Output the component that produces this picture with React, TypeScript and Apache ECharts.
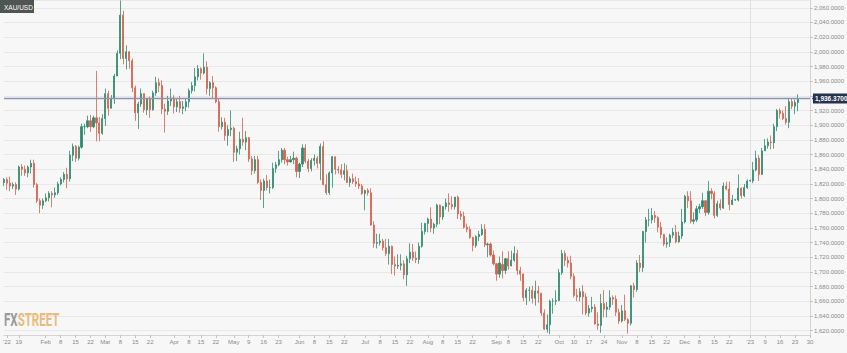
import React, { useEffect, useRef } from "react";
import * as echarts from "echarts";

// [day, open, close, low, high]
type C = [number, number, number, number, number];

const jan22: C[] = [
  [12, 1822, 1826, 1817, 1828], [13, 1826, 1821, 1812, 1829], [14, 1821, 1817, 1810, 1830],
  [17, 1817, 1819, 1813, 1822], [18, 1819, 1813, 1805, 1822], [19, 1813, 1843, 1811, 1845],
  [20, 1843, 1840, 1831, 1847], [21, 1840, 1835, 1831, 1845], [24, 1835, 1843, 1829, 1845],
  [25, 1843, 1848, 1834, 1853], [26, 1848, 1819, 1815, 1853], [27, 1819, 1797, 1794, 1821],
  [28, 1797, 1791, 1780, 1800], [31, 1791, 1797, 1786, 1800],
];
const feb22: C[] = [
  [1, 1797, 1801, 1795, 1807], [2, 1801, 1807, 1796, 1810], [3, 1807, 1805, 1788, 1810],
  [4, 1805, 1808, 1801, 1815], [7, 1808, 1820, 1805, 1823], [8, 1820, 1826, 1818, 1829],
  [9, 1826, 1833, 1822, 1836], [10, 1833, 1827, 1814, 1842], [11, 1827, 1859, 1823, 1865],
  [14, 1859, 1871, 1851, 1875], [15, 1871, 1855, 1850, 1873], [16, 1855, 1870, 1852, 1872],
  [17, 1870, 1898, 1868, 1902], [18, 1898, 1898, 1887, 1902], [21, 1898, 1906, 1896, 1913],
  [22, 1906, 1898, 1891, 1914], [23, 1898, 1910, 1896, 1913], [24, 1910, 1903, 1878, 1974],
  [25, 1903, 1889, 1878, 1911], [28, 1889, 1909, 1887, 1915],
];
const mar22: C[] = [
  [1, 1909, 1943, 1899, 1950], [2, 1943, 1923, 1913, 1947], [3, 1923, 1936, 1923, 1941],
  [4, 1936, 1967, 1929, 1970], [7, 1967, 1998, 1967, 2002], [8, 1998, 2050, 1990, 2070],
  [9, 2050, 1991, 1983, 2056], [10, 1991, 2000, 1976, 2009], [11, 2000, 1988, 1977, 2001],
  [14, 1988, 1951, 1945, 1991], [15, 1951, 1917, 1906, 1954], [16, 1917, 1929, 1895, 1932],
  [17, 1929, 1943, 1925, 1950], [18, 1943, 1921, 1917, 1943], [21, 1921, 1936, 1914, 1937],
  [22, 1936, 1921, 1910, 1939], [23, 1921, 1944, 1920, 1947], [24, 1944, 1958, 1940, 1966],
  [25, 1958, 1954, 1945, 1964], [28, 1954, 1922, 1915, 1961], [29, 1922, 1919, 1890, 1929],
  [30, 1919, 1933, 1914, 1940], [31, 1933, 1937, 1926, 1950],
];
const apr22: C[] = [
  [1, 1937, 1925, 1916, 1941], [4, 1925, 1932, 1918, 1937], [5, 1932, 1923, 1917, 1940],
  [6, 1923, 1925, 1915, 1933], [7, 1925, 1932, 1919, 1937], [8, 1932, 1947, 1924, 1950],
  [11, 1947, 1954, 1943, 1959], [12, 1954, 1966, 1946, 1978], [13, 1966, 1977, 1961, 1982],
  [14, 1977, 1971, 1962, 1979], [18, 1971, 1979, 1969, 1998], [19, 1979, 1950, 1942, 1987],
  [20, 1950, 1958, 1940, 1960], [21, 1958, 1951, 1936, 1967], [22, 1951, 1932, 1930, 1953],
  [25, 1932, 1898, 1891, 1936], [26, 1898, 1904, 1894, 1911], [27, 1904, 1886, 1879, 1910],
  [28, 1886, 1894, 1872, 1900], [29, 1894, 1896, 1885, 1920],
];
const may22: C[] = [
  [2, 1896, 1863, 1850, 1898], [3, 1863, 1868, 1851, 1872], [4, 1868, 1881, 1860, 1891],
  [5, 1881, 1877, 1872, 1910], [6, 1877, 1883, 1866, 1892], [9, 1883, 1854, 1850, 1884],
  [10, 1854, 1838, 1832, 1858], [11, 1838, 1853, 1834, 1858], [12, 1853, 1822, 1820, 1858],
  [13, 1822, 1811, 1798, 1826], [16, 1811, 1824, 1787, 1827], [17, 1824, 1815, 1811, 1832],
  [18, 1815, 1815, 1807, 1826], [19, 1815, 1841, 1813, 1849], [20, 1841, 1846, 1835, 1850],
  [23, 1846, 1853, 1844, 1865], [24, 1853, 1866, 1849, 1869], [25, 1866, 1853, 1847, 1869],
  [26, 1853, 1850, 1845, 1857], [27, 1850, 1853, 1849, 1858], [30, 1853, 1855, 1847, 1864],
  [31, 1855, 1837, 1829, 1857],
];
const jun22: C[] = [
  [1, 1837, 1847, 1828, 1849], [2, 1847, 1869, 1843, 1874], [3, 1869, 1851, 1848, 1874],
  [6, 1851, 1841, 1836, 1854], [7, 1841, 1852, 1837, 1855], [8, 1852, 1855, 1845, 1860],
  [9, 1855, 1848, 1841, 1858], [10, 1848, 1871, 1825, 1875], [13, 1871, 1819, 1818, 1878],
  [14, 1819, 1808, 1805, 1833], [15, 1808, 1835, 1805, 1837], [16, 1835, 1857, 1815, 1858],
  [17, 1857, 1840, 1833, 1857], [20, 1840, 1839, 1834, 1844], [21, 1839, 1833, 1828, 1847],
  [22, 1833, 1838, 1825, 1848], [23, 1838, 1822, 1821, 1846], [24, 1822, 1827, 1816, 1830],
  [27, 1827, 1823, 1820, 1834], [28, 1823, 1820, 1816, 1830], [29, 1820, 1817, 1813, 1828],
  [30, 1817, 1807, 1805, 1820],
];
const jul22: C[] = [
  [1, 1807, 1811, 1784, 1812], [4, 1811, 1808, 1804, 1814], [5, 1808, 1764, 1763, 1814],
  [6, 1764, 1739, 1733, 1769], [7, 1739, 1740, 1732, 1752], [8, 1740, 1742, 1736, 1752],
  [11, 1742, 1733, 1729, 1745], [12, 1733, 1725, 1722, 1745], [13, 1725, 1735, 1710, 1745],
  [14, 1735, 1710, 1697, 1736], [15, 1710, 1708, 1695, 1721], [18, 1708, 1709, 1704, 1724],
  [19, 1709, 1711, 1702, 1724], [20, 1711, 1696, 1690, 1716], [21, 1696, 1718, 1681, 1722],
  [22, 1718, 1727, 1712, 1739], [25, 1727, 1719, 1715, 1738], [26, 1719, 1717, 1712, 1728],
  [27, 1717, 1735, 1711, 1740], [28, 1735, 1755, 1733, 1767], [29, 1755, 1766, 1751, 1767],
];
const aug22: C[] = [
  [1, 1766, 1772, 1754, 1774], [2, 1772, 1760, 1754, 1788], [3, 1760, 1765, 1752, 1767],
  [4, 1765, 1791, 1761, 1793], [5, 1791, 1775, 1765, 1792], [8, 1775, 1789, 1771, 1790],
  [9, 1789, 1794, 1785, 1800], [10, 1794, 1792, 1782, 1807], [11, 1792, 1789, 1785, 1803],
  [12, 1789, 1802, 1785, 1802], [15, 1802, 1779, 1772, 1804], [16, 1779, 1776, 1771, 1783],
  [17, 1776, 1761, 1759, 1782], [18, 1761, 1758, 1754, 1766], [19, 1758, 1747, 1745, 1762],
  [22, 1747, 1736, 1728, 1748], [23, 1736, 1748, 1733, 1750], [24, 1748, 1751, 1742, 1756],
  [25, 1751, 1758, 1749, 1765], [26, 1758, 1737, 1734, 1765], [29, 1737, 1738, 1720, 1740],
  [30, 1738, 1723, 1721, 1740], [31, 1723, 1711, 1709, 1729],
];
const sep22: C[] = [
  [1, 1711, 1697, 1688, 1712], [2, 1697, 1712, 1692, 1721],
  [6, 1710, 1702, 1691, 1728], [7, 1702, 1718, 1697, 1719], [8, 1718, 1708, 1703, 1728],
  [9, 1708, 1716, 1708, 1729], [12, 1716, 1725, 1714, 1735], [13, 1725, 1702, 1696, 1730],
  [14, 1702, 1697, 1688, 1707], [15, 1697, 1665, 1660, 1698], [16, 1665, 1675, 1655, 1678],
  [19, 1675, 1675, 1660, 1680], [20, 1675, 1664, 1657, 1681], [21, 1664, 1674, 1654, 1688],
  [22, 1674, 1671, 1658, 1681], [23, 1671, 1644, 1640, 1671], [26, 1644, 1622, 1621, 1649],
  [27, 1622, 1628, 1617, 1642], [28, 1628, 1660, 1615, 1662], [29, 1660, 1660, 1643, 1664],
  [30, 1660, 1661, 1655, 1675],
];
const oct22: C[] = [
  [3, 1661, 1699, 1660, 1704], [4, 1699, 1725, 1696, 1730], [5, 1725, 1716, 1708, 1729],
  [6, 1716, 1712, 1706, 1721], [7, 1712, 1694, 1690, 1722], [10, 1694, 1668, 1665, 1698],
  [11, 1668, 1666, 1660, 1677], [12, 1666, 1673, 1660, 1678], [13, 1673, 1666, 1642, 1682],
  [14, 1666, 1644, 1641, 1671], [17, 1644, 1650, 1639, 1655], [18, 1650, 1652, 1645, 1666],
  [19, 1652, 1629, 1628, 1656], [20, 1629, 1627, 1621, 1645], [21, 1627, 1657, 1617, 1670],
  [24, 1657, 1649, 1638, 1675], [25, 1649, 1652, 1638, 1659], [26, 1652, 1665, 1648, 1675],
  [27, 1665, 1663, 1655, 1668], [28, 1663, 1645, 1640, 1668], [31, 1645, 1633, 1629, 1650],
];
const nov22: C[] = [
  [1, 1633, 1647, 1631, 1655], [2, 1647, 1635, 1633, 1669], [3, 1635, 1630, 1616, 1637],
  [4, 1630, 1681, 1627, 1682], [7, 1681, 1676, 1665, 1685], [8, 1676, 1712, 1673, 1716],
  [9, 1712, 1706, 1700, 1723], [10, 1706, 1755, 1700, 1756], [11, 1755, 1771, 1740, 1775],
  [14, 1771, 1771, 1762, 1786], [15, 1771, 1777, 1766, 1787], [16, 1777, 1774, 1767, 1783],
  [17, 1774, 1761, 1754, 1776], [18, 1761, 1751, 1746, 1768], [21, 1751, 1738, 1735, 1752],
  [22, 1738, 1740, 1733, 1747], [23, 1740, 1750, 1734, 1752],
  [25, 1750, 1754, 1746, 1760], [28, 1754, 1741, 1739, 1764], [29, 1741, 1749, 1740, 1755],
  [30, 1749, 1768, 1745, 1786],
];
const dec22: C[] = [
  [1, 1768, 1803, 1766, 1805], [2, 1803, 1797, 1787, 1810], [5, 1797, 1769, 1766, 1810],
  [6, 1769, 1771, 1765, 1781], [7, 1771, 1786, 1768, 1790], [8, 1786, 1789, 1780, 1793],
  [9, 1789, 1797, 1786, 1808], [12, 1797, 1781, 1776, 1798], [13, 1781, 1810, 1778, 1824],
  [14, 1810, 1807, 1799, 1814], [15, 1807, 1777, 1773, 1810], [16, 1777, 1793, 1775, 1797],
  [19, 1793, 1787, 1784, 1799], [20, 1787, 1817, 1786, 1822], [21, 1817, 1813, 1811, 1823],
  [22, 1813, 1792, 1784, 1823], [23, 1792, 1798, 1791, 1805], [26, 1798, 1798.5, 1797, 1799],
  [27, 1798, 1814, 1796, 1833], [28, 1814, 1804, 1800, 1815], [29, 1804, 1815, 1802, 1820],
  [30, 1815, 1824, 1813, 1826],
];
const jan23: C[] = [
  [2, 1824, 1824.6, 1823, 1826],
  [3, 1824, 1839, 1821, 1850], [4, 1839, 1855, 1837, 1865], [5, 1855, 1833, 1824, 1859],
  [6, 1833, 1865, 1832, 1869], [9, 1865, 1872, 1865, 1881], [10, 1872, 1877, 1868, 1882],
  [11, 1877, 1876, 1867, 1886], [12, 1876, 1898, 1868, 1902], [13, 1898, 1920, 1892, 1922],
  [16, 1920, 1916, 1909, 1923], [17, 1916, 1909, 1907, 1920], [18, 1909, 1904, 1901, 1926],
  [19, 1904, 1932, 1896, 1936], [20, 1932, 1926, 1922, 1937], [23, 1926, 1931, 1915, 1935],
  [24, 1931, 1936.37, 1919, 1942],
];

const months: [string, C[]][] = [
  ["2022-01", jan22], ["2022-02", feb22], ["2022-03", mar22], ["2022-04", apr22],
  ["2022-05", may22], ["2022-06", jun22], ["2022-07", jul22], ["2022-08", aug22],
  ["2022-09", sep22], ["2022-10", oct22], ["2022-11", nov22], ["2022-12", dec22],
  ["2023-01", jan23],
];
const futureDays = ["2023-01-25", "2023-01-26", "2023-01-27", "2023-01-30"];

const tickDates = [
  "2022-01-13", "2022-01-19", "2022-02-01", "2022-02-08", "2022-02-15", "2022-02-22",
  "2022-03-01", "2022-03-08", "2022-03-15", "2022-03-22", "2022-04-01", "2022-04-08",
  "2022-04-14", "2022-04-22", "2022-05-02", "2022-05-09", "2022-05-16", "2022-05-23",
  "2022-06-01", "2022-06-08", "2022-06-15", "2022-06-22", "2022-07-01", "2022-07-08",
  "2022-07-15", "2022-07-22", "2022-08-01", "2022-08-08", "2022-08-15", "2022-08-22",
  "2022-09-01", "2022-09-08", "2022-09-15", "2022-09-22", "2022-10-03", "2022-10-10",
  "2022-10-17", "2022-10-24", "2022-11-01", "2022-11-08", "2022-11-15", "2022-11-22",
  "2022-12-01", "2022-12-08", "2022-12-15", "2022-12-22", "2023-01-02", "2023-01-09",
  "2023-01-16", "2023-01-23", "2023-01-30",
];
const tickLabels = [
  "'22", "19", "Feb", "8", "15", "22", "Mar", "8", "15", "22", "Apr", "8",
  "15", "22", "May", "9", "16", "23", "Jun", "8", "15", "22", "Jul", "8",
  "15", "22", "Aug", "8", "15", "22", "Sep", "8", "15", "22", "Oct", "10",
  "17", "24", "Nov", "8", "15", "22", "Dec", "8", "15", "22", "'23", "9",
  "16", "23", "30",
];
const yearLineDate = "2023-01-02";
const lastPrice = 1936.37;
const symbolName = "XAU/USD";

const fmt = (v: number) =>
  v.toLocaleString("en-US", { minimumFractionDigits: 4, maximumFractionDigits: 4 });

export default function App() {
  const ref = useRef<HTMLDivElement>(null);
  useEffect(() => {
    document.body.style.margin = "0";
    const chart = echarts.init(ref.current!, undefined, { renderer: "svg" });
    const dates: string[] = [];
    const ohlc: number[][] = [];
    months.forEach(([m, arr]) =>
      arr.forEach(([d, o, c, l, h]) => {
        dates.push(`${m}-${String(d).padStart(2, "0")}`);
        ohlc.push([o, c, l, h]);
      })
    );
    futureDays.forEach((d) => dates.push(d));
    const labelMap: Record<string, string> = {};
    tickDates.forEach((d, i) => (labelMap[d] = tickLabels[i]));
    const isTick = (_i: number, v: string) => labelMap[v] !== undefined;

    const up = "#2e8a6f";
    const down = "#d6604b";
    chart.setOption({
      animation: false,
      backgroundColor: "#f7f7f7",
      grid: { left: 0, top: 0, right: 35, bottom: 18, containLabel: false },
      xAxis: {
        type: "category",
        data: dates,
        boundaryGap: false,
        axisLine: { show: true, lineStyle: { color: "#d4d4d4", width: 1 } },
        axisTick: { show: true, interval: isTick, length: 3, lineStyle: { color: "#c4c4c4" } },
        axisLabel: {
          interval: isTick,
          formatter: (v: string) => labelMap[v] ?? "",
          fontSize: 6,
          color: "#8a8a8a",
          margin: 4,
          fontFamily: "Liberation Sans, Arial, sans-serif",
        },
        splitLine: {
          show: true,
          interval: (_i: number, v: string) => v === yearLineDate,
          lineStyle: { color: "#e2e2e2", width: 1 },
        },
      },
      yAxis: {
        type: "value",
        position: "right",
        scale: true,
        min: 1614,
        max: 2070.67,
        splitNumber: 23,
        minInterval: 20,
        maxInterval: 20,
        axisLine: { show: true, lineStyle: { color: "#d4d4d4" } },
        axisTick: { show: true, length: 3, lineStyle: { color: "#c4c4c4" } },
        axisLabel: {
          formatter: (v: number) => fmt(v),
          fontSize: 6,
          color: "#8a8a8a",
          margin: 4,
          showMinLabel: false,
          showMaxLabel: false,
          fontFamily: "Liberation Sans, Arial, sans-serif",
        },
        splitLine: { show: true, lineStyle: { color: "#e8e8e8", width: 1 } },
      },
      series: [
        {
          type: "candlestick",
          data: ohlc,
          barWidth: 1.6,
          clip: true,
          itemStyle: {
            color: up,
            color0: down,
            borderColor: up,
            borderColor0: down,
            borderWidth: 0.8,
          },
          markLine: {
            silent: true,
            symbol: ["none", "none"],
            animation: false,
            data: [{ yAxis: lastPrice }],
            lineStyle: { color: "#8d93b1", width: 1.4, type: "solid" },
            label: {
              show: true,
              position: "end",
              distance: 3,
              formatter: () => fmt(lastPrice),
              backgroundColor: "#26334e",
              color: "#ffffff",
              fontSize: 6.5,
              fontWeight: "bold",
              padding: [2, 4, 1, 2],
              fontFamily: "Liberation Sans, Arial, sans-serif",
            },
          },
        },
      ],
    });

    const py = chart.convertToPixel({ yAxisIndex: 0 }, lastPrice) as number;
    const gx = 812;
    chart.setOption({
      graphic: [
        {
          type: "polygon",
          silent: true,
          shape: { points: [[gx, py], [gx + 4, py - 4.5], [gx + 4, py + 4.5]] },
          style: { fill: "#26334e" },
        },
        {
          type: "group",
          left: 0,
          top: 0,
          children: [
            { type: "rect", shape: { x: 0, y: 0, width: 34, height: 13 }, style: { fill: "#4f5552" } },
            {
              type: "text",
              x: 4,
              y: 7,
              style: {
                text: symbolName,
                fill: "#ffffff",
                fontSize: 6.5,
                fontFamily: "Liberation Sans, Arial, sans-serif",
                verticalAlign: "middle",
              },
            },
          ],
        },
        {
          type: "text",
          x: 4,
          y: 320,
          scaleX: 0.64,
          style: {
            text: "{a|FX}{b|STREET}",
            verticalAlign: "middle",
            rich: {
              a: { fill: "#9a9a9a", fontSize: 18, fontWeight: "bold", fontFamily: "Roboto, sans-serif" },
              b: { fill: "#ebbb7c", fontSize: 18, fontWeight: "bold", fontFamily: "Roboto, sans-serif" },
            },
          },
        },
      ],
    });
    return () => chart.dispose();
  }, []);
  return <div ref={ref} style={{ position: "fixed", left: 0, top: 0, width: 847, height: 353 }} />;
}
